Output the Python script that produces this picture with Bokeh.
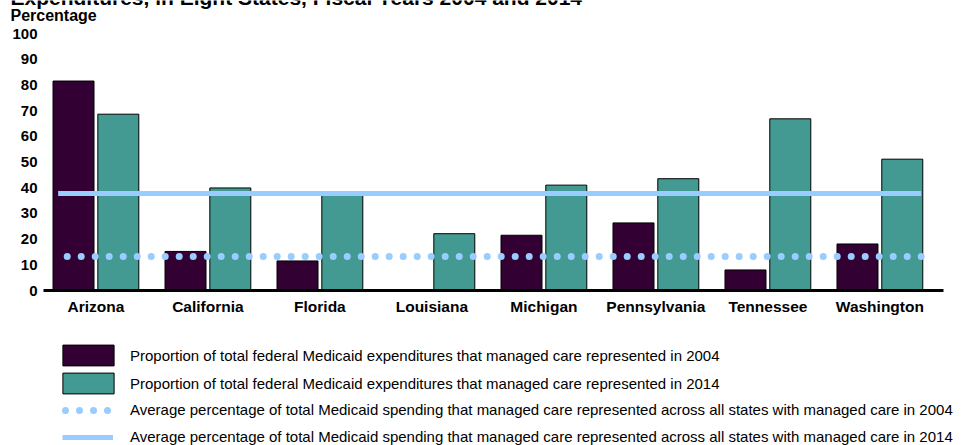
import numpy as np
from bokeh.plotting import figure
from bokeh.layouts import column
from bokeh.models import Range1d, FixedTicker, Label, Legend, LegendItem, ColumnDataSource
from bokeh.embed import file_html
from bokeh.resources import INLINE

# ---- data ----
states = ["Arizona", "California", "Florida", "Louisiana",
          "Michigan", "Pennsylvania", "Tennessee", "Washington"]
share_2004 = [81.5, 15.2, 11.5, 0.0, 21.5, 26.3, 8.0, 18.1]
share_2014 = [68.6, 39.9, 38.0, 22.1, 41.0, 43.5, 66.8, 51.1]
avg_2004 = 13.2
avg_2014 = 37.7
y_ticks = [0, 10, 20, 30, 40, 50, 60, 70, 80, 90, 100]
legend_labels = [
    "Proportion of total federal Medicaid expenditures that managed care represented in 2004",
    "Proportion of total federal Medicaid expenditures that managed care represented in 2014",
    "Average percentage of total Medicaid spending that managed care represented across all states with managed care in 2004",
    "Average percentage of total Medicaid spending that managed care represented across all states with managed care in 2014",
]
title_text = "Expenditures, in Eight States, Fiscal Years 2004 and 2014"
y_title = "Percentage"

# ---- styling / layout constants ----
W = 969
H_HEAD, H_MAIN, H_LEG = 24, 306, 115
C_2004 = "#330033"
C_2014 = "#429A92"
C_AVG = "#99CCFF"
FONT = "Liberation Sans"
BAR_OFFSET = 0.2
BAR_WIDTH = 0.366
SOLID_SPAN = (-0.337, 0.369)   # extension beyond first / last category
DOT_SPAN = (-0.283, 0.387)
BAR_STYLE = dict(line_color="black", line_width=1)
DOT_STYLE = dict(line_color=C_AVG, line_width=7, line_dash="0 14", line_cap="round",
                 line_dash_offset=-3)
SOLID_STYLE = dict(line_color=C_AVG, line_width=5)
LEG_TEXT = dict(label_text_font=FONT, label_text_font_size="15px", label_text_color="black",
                orientation="vertical", padding=0, margin=0, border_line_color=None,
                background_fill_alpha=0, label_height=20, label_width=10)


def no_align(f):
    try:
        f.frame_align = False
    except Exception:
        pass


def bare(height):
    f = figure(width=W, height=height, output_backend="svg", toolbar_location=None,
               x_range=Range1d(0, W), y_range=Range1d(height, 0),
               x_axis_location=None, y_axis_location=None,
               min_border=0, min_border_left=0, min_border_right=0,
               min_border_top=0, min_border_bottom=0)
    f.outline_line_color = None
    f.grid.visible = False
    no_align(f)
    return f


# ---- header (title partly above the page edge, as in the reference) ----
head = bare(H_HEAD)
head.add_layout(Label(x=10, y=-3.3, text=title_text, text_font=FONT, text_font_style="bold",
                      text_font_size="21px", text_color="black",
                      text_baseline="middle"))
head.add_layout(Label(x=10, y=14.5, text=y_title, text_font=FONT, text_font_style="bold",
                      text_font_size="16px", text_color="black",
                      text_baseline="middle"))

# ---- main chart ----
idx = np.arange(len(states))
n = len(states)
src = ColumnDataSource(dict(
    x04=idx - BAR_OFFSET, x14=idx + BAR_OFFSET,
    v04=share_2004, v14=share_2014,
))

p = figure(width=W, height=H_MAIN, output_backend="svg", toolbar_location=None,
           x_range=Range1d(-0.468, n - 1 + 0.568), y_range=Range1d(0, 100),
           min_border_left=43, min_border_right=26, min_border_top=9,
           min_border_bottom=40)
p.outline_line_color = None
p.grid.visible = False
no_align(p)

p.vbar(x="x04", top="v04", width=BAR_WIDTH, source=src, fill_color=C_2004, **BAR_STYLE)
p.vbar(x="x14", top="v14", width=BAR_WIDTH, source=src, fill_color=C_2014, **BAR_STYLE)
p.line(x=[0 + DOT_SPAN[0], n - 1 + DOT_SPAN[1]], y=[avg_2004, avg_2004], **DOT_STYLE)
p.line(x=[0 + SOLID_SPAN[0], n - 1 + SOLID_SPAN[1]], y=[avg_2014, avg_2014], **SOLID_STYLE)

xa = p.xaxis[0]
xa.ticker = FixedTicker(ticks=list(idx))
xa.major_label_overrides = {int(i): s for i, s in zip(idx, states)}
xa.axis_line_width = 3
xa.axis_line_color = "black"
xa.major_tick_line_color = None
xa.minor_tick_line_color = None
xa.major_tick_out = 0
xa.major_label_text_font = FONT
xa.major_label_text_font_style = "bold"
xa.major_label_text_font_size = "15.5px"
xa.major_label_text_color = "black"
xa.major_label_standoff = 7

ya = p.yaxis[0]
ya.ticker = FixedTicker(ticks=y_ticks)
ya.axis_line_color = None
ya.major_tick_line_color = None
ya.minor_tick_line_color = None
ya.major_tick_out = 0
ya.major_label_standoff = 6
ya.major_label_text_font = FONT
ya.major_label_text_font_style = "bold"
ya.major_label_text_font_size = "15px"
ya.major_label_text_color = "black"

# ---- legend strip (legend-only renderers carry no drawable point) ----
leg = bare(H_LEG)
g04 = leg.vbar(x=[np.nan], top=[np.nan], width=1, fill_color=C_2004, **BAR_STYLE)
g14 = leg.vbar(x=[np.nan], top=[np.nan], width=1, fill_color=C_2014, **BAR_STYLE)
gdot = leg.line(x=[np.nan], y=[np.nan], **DOT_STYLE)
gsol = leg.line(x=[np.nan], y=[np.nan], **SOLID_STYLE)

# box entries: area legend glyphs fill 80% of the glyph cell
leg_boxes = Legend(items=[LegendItem(label=legend_labels[0], renderers=[g04]),
                          LegendItem(label=legend_labels[1], renderers=[g14])],
                   location=(56, 48.7), glyph_width=64, glyph_height=26, spacing=2,
                   label_standoff=10, **LEG_TEXT)
leg_lines = Legend(items=[LegendItem(label=legend_labels[2], renderers=[gdot]),
                          LegendItem(label=legend_labels[3], renderers=[gsol])],
                   location=(62, -1.5), glyph_width=51, glyph_height=20, spacing=7,
                   label_standoff=17, **LEG_TEXT)
leg.add_layout(leg_boxes, "center")
leg.add_layout(leg_lines, "center")

layout = column(head, p, leg, spacing=0)
open("out.html", "w").write(file_html(layout, INLINE))
